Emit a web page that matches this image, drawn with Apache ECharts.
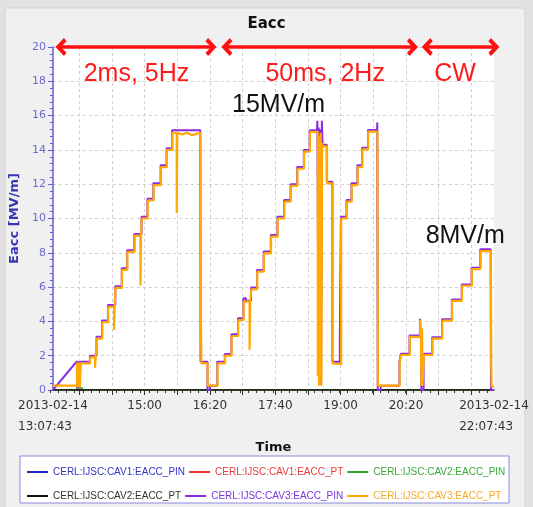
<!DOCTYPE html>
<html>
<head>
<meta charset="utf-8">
<script src="https://cdn.jsdelivr.net/npm/echarts@6/dist/echarts.min.js"></script>
<style>
  html, body { margin: 0; padding: 0; background: #e2e2e2; }
  #chart { width: 533px; height: 507px; }
</style>
</head>
<body>
<div id="chart"></div>
<script>
// x values are minutes after 13:00 on 2013-02-14
const tStart = 7.717;   // 13:07:43
const tEnd = 547.717;   // 22:07:43

const gridTicks = [40, 80, 120, 160, 200, 240, 280, 320, 360, 400, 440, 480, 520];
const minorTicks = [10, 20, 30, 40, 50, 60, 70, 80, 90, 100, 110, 120, 130, 140, 150, 160, 170, 180, 190, 200,
  210, 220, 230, 240, 250, 260, 270, 280, 290, 300, 310, 320, 330, 340, 350, 360, 370, 380, 390, 400,
  410, 420, 430, 440, 450, 460, 470, 480, 490, 500, 510, 520, 530, 540];
const xLabelValues = [tStart, 120, 200, 280, 360, 440, tEnd];
const xLabels = ['2013-02-14\n13:07:43', '15:00', '16:20', '17:40', '19:00', '20:20', '2013-02-14\n22:07:43'];

const seriesNames = [
  'CERL:IJSC:CAV1:EACC_PIN', 'CERL:IJSC:CAV1:EACC_PT', 'CERL:IJSC:CAV2:EACC_PIN',
  'CERL:IJSC:CAV2:EACC_PT', 'CERL:IJSC:CAV3:EACC_PIN', 'CERL:IJSC:CAV3:EACC_PT'
];
const lineColors = ['#2424c8', '#f03030', '#30a830', '#111111', '#8a2be6', '#ffa800'];
const textColors = ['#3434c4', '#e83a3a', '#3aa83a', '#333333', '#7a34e0', '#f5aa2a'];

const cav1Pin = [[tStart, 0], [tEnd, 0]];
const cav1Pt = [[tStart, 0], [tEnd, 0]];
const cav2Pin = [[tStart, 0], [37.2, 0], [37.2, 0.12], [44, 0.12], [44, 0], [tEnd, 0]];
const cav2Pt = [[tStart, 0], [tEnd, 0]];

const cav3Pin = [
  [tStart, 0], [37.2, 1.68], [37.2, 0.1], [38, 1.68], [38.8, 0.1], [39.6, 1.68], [40.4, 0.1], [41.4, 1.65],
  [53, 1.65], [53, 2.0], [61.1, 2.0], [61.1, 3.1], [67.9, 3.1], [67.9, 4.05], [75.1, 4.05], [75.1, 4.95],
  [84.1, 4.95], [84.1, 6.05], [92, 6.05], [92, 7.1], [98.6, 7.1], [98.6, 8.15], [107.4, 8.15], [107.4, 9.1],
  [116.2, 9.1], [116.2, 10.1], [123.4, 10.1], [123.4, 11.15], [130.7, 11.15], [130.7, 12.05], [139.6, 12.05],
  [139.6, 13.1], [146.9, 13.1], [146.9, 14.1], [153.7, 14.1], [153.7, 15.15], [188.1, 15.15], [188.5, 1.65],
  [197, 1.65], [197, 0], [200, 0], [200, 0.25], [208.9, 0.25], [208.9, 1.65], [218.2, 1.65], [218.2, 2.1],
  [226.2, 2.1], [226.2, 3.25], [234.3, 3.25], [234.3, 4.18], [240.9, 4.18], [240.9, 5.35], [244, 5.35],
  [244, 5.2], [250.3, 5.2], [250.3, 5.97], [257.6, 5.97], [257.6, 7.0], [265.7, 7.0], [265.7, 8.07],
  [274.5, 8.07], [274.5, 9.04], [282.6, 9.04], [282.6, 10.1], [290.7, 10.1], [290.7, 11.08], [298.7, 11.08],
  [298.7, 12.0], [306.8, 12.0], [306.8, 13.0], [314.9, 13.0], [314.9, 14.0], [322.1, 14.0], [322.1, 15.15],
  [331, 15.15], [331.5, 15.7], [332.2, 8.4], [333, 15.3], [334, 0.5], [335, 15.2], [336, 0.3], [337, 15.7],
  [337.8, 14.3], [343, 14.3], [343, 12.15], [349.9, 12.15], [349.9, 1.65], [359, 1.65], [359, 3.1],
  [360.3, 3.1], [360.3, 10.1], [367.2, 10.1], [367.2, 11.08], [373.2, 11.08], [373.2, 12.05], [380.5, 12.05],
  [380.5, 13.1], [386.2, 13.1], [386.2, 14.13], [393.4, 14.13], [393.4, 15.16], [404.6, 15.16], [404.8, 15.6],
  [405.4, 0], [409, 0], [409, 0.25], [431.9, 0.25], [431.9, 1.65], [433.6, 2.12], [444.3, 2.12], [444.3, 3.18],
  [457, 3.18], [457, 4.15], [458.2, 3.3], [458.8, 0], [461.5, 0], [461.5, 2.12], [472, 2.12], [472, 3.08],
  [484.1, 3.08], [484.1, 4.12], [496.1, 4.12], [496.1, 5.28], [508.2, 5.28], [508.2, 6.15], [520.3, 6.15],
  [520.3, 7.13], [530.9, 7.13], [530.9, 8.2], [543.6, 8.2], [544, 0], [tEnd, 0]
];

const cav3Pt = [
  [tStart, 0.25], [37.2, 0.25], [37.2, 1.6], [38, 0.15], [38.6, 1.6], [39.3, 0.15], [40, 1.6], [40.8, 0.15],
  [41.6, 1.55], [53.3, 1.55], [53.3, 1.9], [59.3, 1.9], [59.3, 1.3], [60, 1.9], [61.4, 1.9], [61.4, 3.0],
  [68.2, 3.0], [68.2, 3.95], [75.4, 3.95], [75.4, 4.85], [82.6, 4.85], [82.6, 3.5], [83.3, 4.85], [84.4, 4.85],
  [84.4, 5.95], [92.3, 5.95], [92.3, 7.0], [98.9, 7.0], [98.9, 8.05], [107.7, 8.05], [107.7, 9.0], [114.9, 9.0],
  [114.9, 6.1], [115.6, 9.0], [116.5, 9.0], [116.5, 10.0], [123.7, 10.0], [123.7, 11.05], [131, 11.05],
  [131, 11.95], [139.9, 11.95], [139.9, 13.0], [147.2, 13.0], [147.2, 14.0], [154, 14.0], [154, 15.0],
  [159.3, 15.0], [159.3, 10.3], [160, 15.0], [166, 14.9], [172, 15.0], [178, 14.85], [184, 14.95], [188.3, 15.0],
  [188.6, 5.7], [189.5, 1.55], [197.1, 1.55], [197.1, 0.25], [209.2, 0.25], [209.2, 1.55], [218.5, 1.55],
  [218.5, 2.0], [226.5, 2.0], [226.5, 3.15], [234.6, 3.15], [234.6, 4.08], [241.2, 4.08], [241.2, 5.15],
  [248.5, 5.15], [248.5, 2.35], [249.2, 5.15], [250.6, 5.15], [250.6, 5.87], [257.9, 5.87], [257.9, 6.9],
  [266, 6.9], [266, 7.97], [274.8, 7.97], [274.8, 8.94], [282.9, 8.94], [282.9, 10.0], [291, 10.0], [291, 10.98],
  [299, 10.98], [299, 11.9], [307.1, 11.9], [307.1, 12.9], [315.2, 12.9], [315.2, 13.9], [322.4, 13.9],
  [322.4, 15.05], [332, 15.05], [332, 0.8], [332.8, 14.6], [333.5, 0.25], [334.2, 14.8], [334.9, 0.6],
  [335.6, 15.0], [336.4, 0.25], [337.2, 14.4], [338, 14.2], [343.3, 14.2], [343.3, 12.05], [350.2, 12.05],
  [350.2, 1.55], [360.6, 1.5], [360.6, 10.0], [367.5, 10.0], [367.5, 10.98], [373.5, 10.98], [373.5, 11.95],
  [380.8, 11.95], [380.8, 13.0], [386.5, 13.0], [386.5, 14.03], [393.7, 14.03], [393.7, 15.06], [405, 15.06],
  [405.6, 0.25], [432.2, 0.25], [432.2, 1.6], [433.8, 1.6], [433.8, 2.04], [444.6, 2.04], [444.6, 3.1],
  [457.3, 3.1], [457.3, 4.1], [458.2, 3.2], [458.8, 0.25], [459.6, 3.6], [460.3, 0.25], [461.8, 0.25],
  [461.8, 2.04], [472.3, 2.04], [472.3, 3.0], [484.4, 3.0], [484.4, 4.04], [496.4, 4.04], [496.4, 5.2],
  [508.5, 5.2], [508.5, 6.08], [520.6, 6.08], [520.6, 7.05], [531.2, 7.05], [531.2, 8.1], [543.9, 8.1],
  [544.3, 1.65], [544.8, 0.2], [tEnd, 0.2]
];

// annotations: red double arrows at Eacc = 20 and the texts
const arrowSpans = [[17.6, 201.3], [220.7, 447.9], [466.0, 547.6]];
const modeLabels = [['2ms, 5Hz', 110, 18.4], ['50ms, 2Hz', 341, 18.4], ['CW', 500, 18.4]];
const peakLabels = [['15MV/m', 284, 16.6], ['8MV/m', 512.5, 9.0]];

const chevron = 'path://M10,0 L20,10 L16.5,13 L10,6.5 L3.5,13 L0,10 Z';
const font = 'DejaVu Sans';

const chart = echarts.init(document.getElementById('chart'));

const seriesData = [cav1Pin, cav1Pt, cav2Pin, cav2Pt, cav3Pin, cav3Pt];
const series = seriesData.map((d, i) => ({
  name: seriesNames[i],
  type: 'line',
  data: d,
  showSymbol: false,
  symbol: 'none',
  lineStyle: { color: lineColors[i], width: i === 5 ? 2.2 : (i === 4 ? 2 : 1.5) },
  itemStyle: { color: lineColors[i] },
  z: 2 + i,
}));

series[5].markLine = {
  silent: true,
  symbol: [chevron, chevron],
  symbolSize: [18, 11],
  label: { show: false },
  lineStyle: { color: '#ff1010', width: 3.5, type: 'solid' },
  data: arrowSpans.map(s => [{ coord: [s[0], 20] }, { coord: [s[1], 20] }]),
};
series[5].markPoint = {
  silent: true,
  symbol: 'circle',
  symbolSize: 0,
  label: { show: true, position: 'inside', formatter: '{b}', fontFamily: 'Liberation Sans', fontSize: 25 },
  data: modeLabels.map(m => ({ name: m[0], coord: [m[1], m[2]], label: { color: '#ff1a1a' } }))
    .concat(peakLabels.map(m => ({ name: m[0], coord: [m[1], m[2]], label: { color: '#111' } }))),
};

const legendRow = (names, top) => ({
  top: top,
  left: 22,
  orient: 'horizontal',
  icon: 'rect',
  itemWidth: 21,
  itemHeight: 2,
  itemGap: 4,
  selectedMode: false,
  textStyle: { fontFamily: 'Liberation Sans', fontSize: 10 },
  data: names.map(n => ({ name: n, textStyle: { color: textColors[seriesNames.indexOf(n)] } })),
});

const option = {
  animation: false,
  backgroundColor: '#e2e2e2',
  graphic: [
    { type: 'rect', z: -100, shape: { x: 5, y: 8, width: 520, height: 505 },
      style: { fill: '#f0f0f0', stroke: '#d2d2d2' } },
    { type: 'rect', z: -90, shape: { x: 20, y: 456, width: 489, height: 47 },
      style: { fill: '#ffffff', stroke: '#8a8ae0', lineWidth: 1 } },
  ],
  title: {
    text: 'Eacc',
    left: 'center',
    top: 12,
    textStyle: { fontFamily: font, fontSize: 15, fontWeight: 'bold', color: '#111' },
  },
  legend: [
    legendRow(seriesNames.slice(0, 3), 462),
    legendRow(seriesNames.slice(3, 6), 486),
  ],
  grid: [
    { left: 48, right: 39, top: 47, bottom: 117, show: true, backgroundColor: '#ffffff', borderWidth: 0 },
    { left: 48, right: 39, top: 47, bottom: 117 },
  ],
  xAxis: [
    {
      type: 'value',
      gridIndex: 0,
      min: tStart,
      max: tEnd,
      name: 'Time',
      nameLocation: 'middle',
      nameGap: 51,
      nameTextStyle: { fontFamily: font, fontSize: 13, fontWeight: 'bold', color: '#111' },
      axisLine: { show: true, lineStyle: { color: '#222', width: 1.5 } },
      axisTick: { show: true, customValues: gridTicks, length: 5, lineStyle: { color: '#333' } },
      splitLine: { show: true, lineStyle: { color: '#cfcfcf', type: [3, 3], width: 1 } },
      axisLabel: {
        customValues: xLabelValues,
        margin: 5,
        formatter: v => {
          const i = xLabelValues.findIndex(x => Math.abs(x - v) < 0.01);
          const txt = i >= 0 ? xLabels[i] : '';
          return txt.split('\n').map(s => '{d|' + s + '}').join('\n');
        },
        rich: { d: { align: 'left', lineHeight: 21, fontSize: 12, fontFamily: font, color: '#333' } },
      },
    },
    {
      type: 'value',
      gridIndex: 1,
      min: tStart,
      max: tEnd,
      axisLine: { show: false },
      axisTick: { show: true, customValues: minorTicks, length: 3, lineStyle: { color: '#333' } },
      axisLabel: { show: false },
      splitLine: { show: false },
    },
  ],
  yAxis: [
    {
      type: 'value',
      gridIndex: 0,
      min: 0,
      max: 20,
      interval: 2,
      name: 'Eacc [MV/m]',
      nameLocation: 'middle',
      nameGap: 25,
      nameTextStyle: { fontFamily: font, fontSize: 13, fontWeight: 'bold', color: '#3636b4' },
      axisLine: { show: true, lineStyle: { color: '#6060d0', width: 1.5 } },
      axisTick: { show: true, length: 5, lineStyle: { color: '#6060d0' } },
      minorTick: { show: true, splitNumber: 5, length: 3, lineStyle: { color: '#6060d0' } },
      axisLabel: { fontFamily: font, fontSize: 11, color: '#6a6ad0', margin: 7 },
      splitLine: { show: true, lineStyle: { color: '#cfcfcf', type: [3, 3], width: 1 } },
    },
    { type: 'value', gridIndex: 1, min: 0, max: 20, show: false },
  ],
  series: series,
};

chart.setOption(option);
</script>
</body>
</html>
